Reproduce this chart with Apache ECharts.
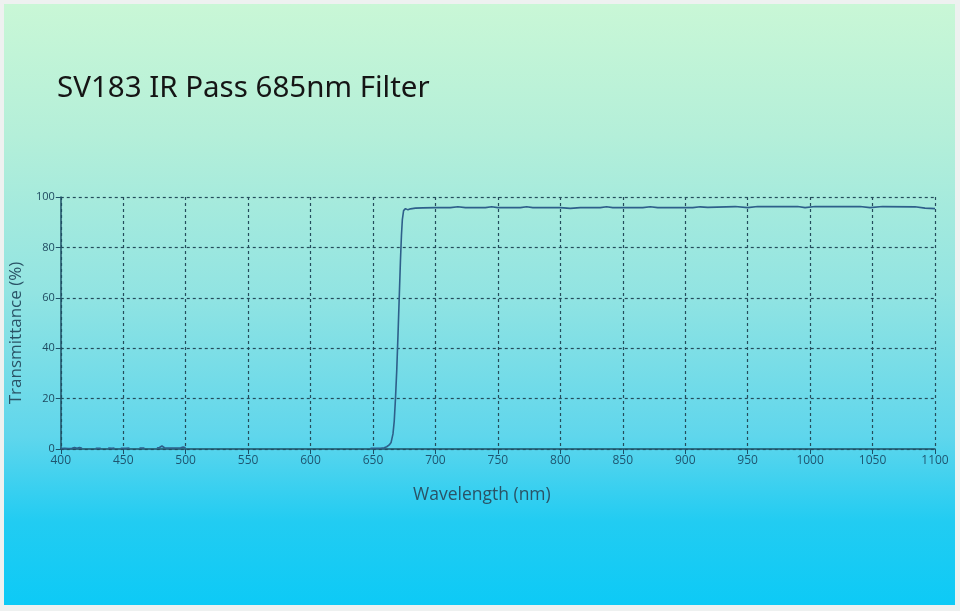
<!DOCTYPE html>
<html>
<head>
<meta charset="utf-8">
<script src="https://cdn.jsdelivr.net/npm/echarts@6/dist/echarts.min.js"></script>
<style>
  html, body { margin: 0; padding: 0; background: #eef1f0; }
  #panel {
    position: absolute; left: 4px; top: 4px; width: 951px; height: 601px;
    background: linear-gradient(to bottom, #c9f7d6 0%, #b4efd9 22%, #92e4e2 48%, #5fd6ec 72%, #22ccf2 86%, #0dcaf6 100%);
  }
  #chart { position: absolute; left: 0; top: 0; width: 960px; height: 611px; }
</style>
</head>
<body>
<div id="panel"></div>
<div id="chart"></div>
<script>
// wavelength (nm) and transmittance (%); null = gap in the trace
var wavelength = [
  400, 403, 406, 409, 411, 413, 415, 417, 419, 427, 428, 432, 433, 437, 438, 441, 443, 444,
  447, 448, 452, 455, 456, 462, 463, 467, 468, 476, 477, 479, 481, 483, 487, 492, 496, 498, 500, 501,
  647, 648, 652, 656, 659, 661, 663, 664.5, 666, 667, 668, 669, 670, 671, 672, 672.8, 673.5, 674.5,
  676, 678, 680, 684, 690, 700, 712, 718, 724, 740, 745, 750, 768, 773, 778, 800, 808, 816,
  832, 837, 842, 866, 872, 878, 906, 912, 918, 940, 950, 958, 990, 996, 1004, 1040, 1048, 1058,
  1084, 1092, 1100
];
var transmittance = [
  0.2, 0.3, 0.2, 0.3, 0.6, 0.3, 0.6, 0.3, null, null, 0.3, 0.3, null, null, 0.4, 0.3, 0.4, null,
  null, 0.3, 0.3, 0.4, null, null, 0.4, 0.4, null, null, 0.4, 0.6, 1.2, 0.5, 0.4, 0.4, 0.5, 0.8, 0.5, null,
  null, 0.3, 0.3, 0.3, 0.5, 0.9, 1.6, 2.6, 6, 11, 20, 31, 45, 60, 75, 85, 91, 94.6,
  95.4, 94.9, 95.3, 95.6, 95.7, 95.8, 95.8, 96.1, 95.8, 95.8, 96.1, 95.8, 95.8, 96.1, 95.8, 95.8, 95.5, 95.8,
  95.8, 96.1, 95.8, 95.8, 96.1, 95.8, 95.8, 96.1, 95.9, 96.2, 95.8, 96.2, 96.2, 95.8, 96.2, 96.2, 95.8, 96.2,
  96.1, 95.6, 95.4
];
var xTicks = { min: 400, max: 1100, step: 50 };
var yTicks = { min: 0, max: 100, step: 20 };

var chart = echarts.init(document.getElementById('chart'));
var axisColor = '#1e4f66';
var gridLine = { show: true, lineStyle: { color: '#254c5c', type: [3, 3], width: 1.2 } };

var option = {
  backgroundColor: 'transparent',
  animation: false,
  title: {
    text: 'SV183 IR Pass 685nm Filter',
    left: 52, top: 69,
    textStyle: { fontFamily: 'Noto Sans', fontSize: 29.5, fontWeight: 'normal', color: '#151515' }
  },
  grid: { left: 58, right: 25, top: 197, bottom: 162 },
  xAxis: {
    type: 'value',
    min: xTicks.min, max: xTicks.max, interval: xTicks.step,
    name: 'Wavelength (nm)', nameLocation: 'middle', nameGap: 37,
    nameTextStyle: { fontFamily: 'Open Sans', fontSize: 17.5, color: '#2a5366', padding: [0, 32, 0, 0] },
    axisLine: { show: true, onZero: false, lineStyle: { color: axisColor, width: 1.5 } },
    axisTick: { show: true, length: 5, lineStyle: { color: axisColor } },
    axisLabel: {
      fontFamily: 'Open Sans', fontSize: 12, color: '#1f5570', margin: 6,
      formatter: function (v) { return String(v); }
    },
    splitLine: gridLine
  },
  yAxis: {
    type: 'value',
    min: yTicks.min, max: yTicks.max, interval: yTicks.step,
    name: 'Transmittance (%)', nameLocation: 'middle', nameGap: 27,
    nameTextStyle: { fontFamily: 'Open Sans', fontSize: 17, color: '#2a5366', padding: [0, 20, 0, 0] },
    axisLine: { show: true, lineStyle: { color: axisColor, width: 1.5 } },
    axisTick: { show: true, length: 5, lineStyle: { color: axisColor } },
    axisLabel: { fontFamily: 'Open Sans', fontSize: 11, color: '#1f4a60', margin: 6 },
    splitLine: gridLine
  },
  series: [{
    type: 'line',
    showSymbol: false,
    connectNulls: false,
    lineStyle: { color: '#2e5f8a', width: 1.6 },
    data: wavelength.map(function (w, i) { return [w, transmittance[i]]; })
  }]
};
chart.setOption(option);
</script>
</body>
</html>
